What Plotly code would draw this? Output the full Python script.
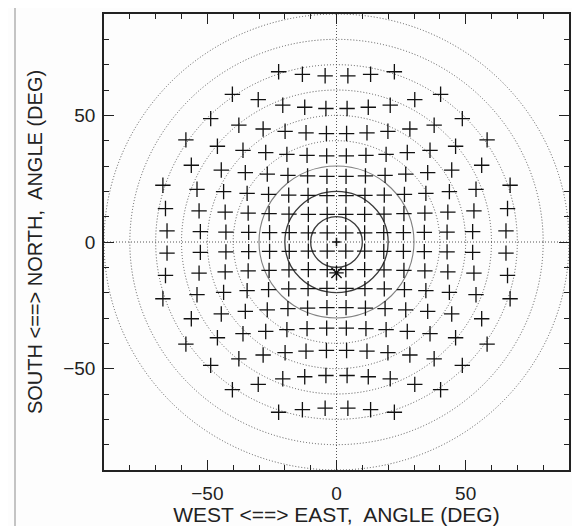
import plotly.graph_objects as go

# ---------------- data ----------------
# plus-marker grid, one list per row (top row first)
plus_rows_x = [
    [-22.4, -13.2, -4.4, 4.4, 13.2, 22.4],
    [-40.3, -30.3, -20.8, -12.3, -4.1, 4.1, 12.3, 20.8, 30.3, 40.3],
    [-48.7, -37.8, -28.4, -19.9, -11.8, -3.9, 3.9, 11.8, 19.9, 28.4, 37.8, 48.7],
    [-58.3, -46.1, -36.2, -27.4, -19.2, -11.4, -3.8, 3.8, 11.4, 19.2, 27.4, 36.2, 46.1, 58.3],
    [-56.2, -44.6, -35.3, -26.8, -18.8, -11.2, -3.7, 3.7, 11.2, 18.8, 26.8, 35.3, 44.6, 56.2],
    [-67.2, -54.0, -43.7, -34.6, -26.3, -18.5, -11.0, -3.7, 3.7, 11.0, 18.5, 26.3, 34.6, 43.7, 54.0, 67.2],
    [-66.2, -53.2, -43.1, -34.2, -26.1, -18.4, -10.9, -3.6, 3.6, 10.9, 18.4, 26.1, 34.2, 43.1, 53.2, 66.2],
    [-65.6, -52.7, -42.8, -34.0, -25.9, -18.3, -10.9, -3.6, 3.6, 10.9, 18.3, 25.9, 34.0, 42.8, 52.7, 65.6],
    [-65.6, -52.7, -42.8, -34.0, -25.9, -18.3, -10.9, -3.6, 3.6, 10.9, 18.3, 25.9, 34.0, 42.8, 52.7, 65.6],
    [-66.2, -53.2, -43.1, -34.2, -26.1, -18.4, -10.9, -3.6, 3.6, 10.9, 18.4, 26.1, 34.2, 43.1, 53.2, 66.2],
    [-67.2, -54.0, -43.7, -34.6, -26.3, -18.5, -11.0, -3.7, 3.7, 11.0, 18.5, 26.3, 34.6, 43.7, 54.0, 67.2],
    [-56.2, -44.6, -35.3, -26.8, -18.8, -11.2, -3.7, 3.7, 11.2, 18.8, 26.8, 35.3, 44.6, 56.2],
    [-58.3, -46.1, -36.2, -27.4, -19.2, -11.4, -3.8, 3.8, 11.4, 19.2, 27.4, 36.2, 46.1, 58.3],
    [-48.7, -37.8, -28.4, -19.9, -11.8, -3.9, 3.9, 11.8, 19.9, 28.4, 37.8, 48.7],
    [-40.3, -30.3, -20.8, -12.3, -4.1, 4.1, 12.3, 20.8, 30.3, 40.3],
    [-22.4, -13.2, -4.4, 4.4, 13.2, 22.4],
]
plus_rows_y = [
    [67.2, 66.2, 65.6, 65.6, 66.2, 67.2],
    [58.3, 56.2, 54.0, 53.2, 52.7, 52.7, 53.2, 54.0, 56.2, 58.3],
    [48.7, 46.1, 44.6, 43.7, 43.1, 42.8, 42.8, 43.1, 43.7, 44.6, 46.1, 48.7],
    [40.3, 37.8, 36.2, 35.3, 34.6, 34.2, 34.0, 34.0, 34.2, 34.6, 35.3, 36.2, 37.8, 40.3],
    [30.3, 28.4, 27.4, 26.8, 26.3, 26.1, 25.9, 25.9, 26.1, 26.3, 26.8, 27.4, 28.4, 30.3],
    [22.4, 20.8, 19.9, 19.2, 18.8, 18.5, 18.4, 18.3, 18.3, 18.4, 18.5, 18.8, 19.2, 19.9, 20.8, 22.4],
    [13.2, 12.3, 11.8, 11.4, 11.2, 11.0, 10.9, 10.9, 10.9, 10.9, 11.0, 11.2, 11.4, 11.8, 12.3, 13.2],
    [4.4, 4.1, 3.9, 3.8, 3.7, 3.7, 3.6, 3.6, 3.6, 3.6, 3.7, 3.7, 3.8, 3.9, 4.1, 4.4],
    [-4.4, -4.1, -3.9, -3.8, -3.7, -3.7, -3.6, -3.6, -3.6, -3.6, -3.7, -3.7, -3.8, -3.9, -4.1, -4.4],
    [-13.2, -12.3, -11.8, -11.4, -11.2, -11.0, -10.9, -10.9, -10.9, -10.9, -11.0, -11.2, -11.4, -11.8, -12.3, -13.2],
    [-22.4, -20.8, -19.9, -19.2, -18.8, -18.5, -18.4, -18.3, -18.3, -18.4, -18.5, -18.8, -19.2, -19.9, -20.8, -22.4],
    [-30.3, -28.4, -27.4, -26.8, -26.3, -26.1, -25.9, -25.9, -26.1, -26.3, -26.8, -27.4, -28.4, -30.3],
    [-40.3, -37.8, -36.2, -35.3, -34.6, -34.2, -34.0, -34.0, -34.2, -34.6, -35.3, -36.2, -37.8, -40.3],
    [-48.7, -46.1, -44.6, -43.7, -43.1, -42.8, -42.8, -43.1, -43.7, -44.6, -46.1, -48.7],
    [-58.3, -56.2, -54.0, -53.2, -52.7, -52.7, -53.2, -54.0, -56.2, -58.3],
    [-67.2, -66.2, -65.6, -65.6, -66.2, -67.2],
]
center_x = [0.0]
center_y = [0.0]
star_x = [0.0]
star_y = [-12.2]

ring_solid = [10, 20]
ring_grey = [30]
ring_dotted = [40, 50, 60, 70, 80, 90]

tick_vals = [-50, 0, 50]
tick_text = ["\u221250", "0", "50"]
axis_range = [-90, 90]
x_title = "WEST <==> EAST,  ANGLE (DEG)"
y_title = "SOUTH <==> NORTH,  ANGLE (DEG)"

FONT = "Liberation Sans, Arial, sans-serif"

# ---------------- figure ----------------
px_all = [v for row in plus_rows_x for v in row]
py_all = [v for row in plus_rows_y for v in row]

fig = go.Figure()
fig.add_trace(go.Scatter(
    x=px_all, y=py_all, mode="markers",
    marker=dict(symbol="cross-thin-open", size=11, color="#111111",
                line=dict(width=1.3, color="#111111")),
    hoverinfo="x+y", showlegend=False))
fig.add_trace(go.Scatter(
    x=center_x, y=center_y, mode="markers",
    marker=dict(symbol="cross-thin-open", size=6, color="#111111",
                line=dict(width=1.5, color="#111111")),
    showlegend=False))
fig.add_trace(go.Scatter(
    x=star_x, y=star_y, mode="markers",
    marker=dict(symbol="asterisk-open", size=12, color="#111111",
                line=dict(width=1.4, color="#111111")),
    showlegend=False))

shapes = []
for r in ring_solid:
    shapes.append(dict(type="circle", xref="x", yref="y", x0=-r, x1=r, y0=-r, y1=r,
                       line=dict(color="#3a3a3a", width=1.3), layer="below"))
for r in ring_grey:
    shapes.append(dict(type="circle", xref="x", yref="y", x0=-r, x1=r, y0=-r, y1=r,
                       line=dict(color="#808080", width=1.1), layer="below"))
for r in ring_dotted:
    shapes.append(dict(type="circle", xref="x", yref="y", x0=-r, x1=r, y0=-r, y1=r,
                       line=dict(color="#555555", width=1, dash="1px,2px"), layer="below"))
# dotted cross-hair through the origin
shapes.append(dict(type="line", xref="x", yref="y", x0=axis_range[0], x1=axis_range[1], y0=0, y1=0,
                   line=dict(color="#555555", width=1, dash="1px,2px"), layer="below"))
shapes.append(dict(type="line", xref="x", yref="y", x0=0, x1=0, y0=axis_range[0], y1=axis_range[1],
                   line=dict(color="#555555", width=1, dash="1px,2px"), layer="below"))
# light page border of the scanned figure
shapes.append(dict(type="rect", xref="paper", yref="paper", x0=-0.1914, x1=1.0194, y0=-0.3, y1=1.0175,
                   line=dict(color="#c4c4c4", width=2), layer="below"))

axis_common = dict(
    range=axis_range, tickmode="array", tickvals=tick_vals, ticktext=tick_text,
    ticks="inside", ticklen=10, tickwidth=1.3, tickcolor="#222222",
    minor=dict(dtick=10, ticks="inside", ticklen=5, tickwidth=1.1, tickcolor="#222222"),
    showline=True, linecolor="#222222", linewidth=1.6, mirror="ticks",
    showgrid=False, zeroline=False, automargin=False,
    tickfont=dict(family=FONT, size=19, color="#222222"),
)

# the page body adds an 8 px offset, so the figure is 8 px smaller than the window
fig.update_layout(
    width=572, height=518,
    margin=dict(l=96, r=11, t=6, b=56),
    paper_bgcolor="#fdfdfd", plot_bgcolor="#fdfdfd",
    shapes=shapes,
    xaxis=dict(axis_common, ticklabelstandoff=5,
               title=dict(text=x_title, standoff=3,
                          font=dict(family=FONT, size=21, color="#222222"))),
    yaxis=dict(axis_common, ticklabelstandoff=3,
               title=dict(text=y_title, standoff=15,
                          font=dict(family=FONT, size=20, color="#222222"))),
)

fig.write_html("out.html")
